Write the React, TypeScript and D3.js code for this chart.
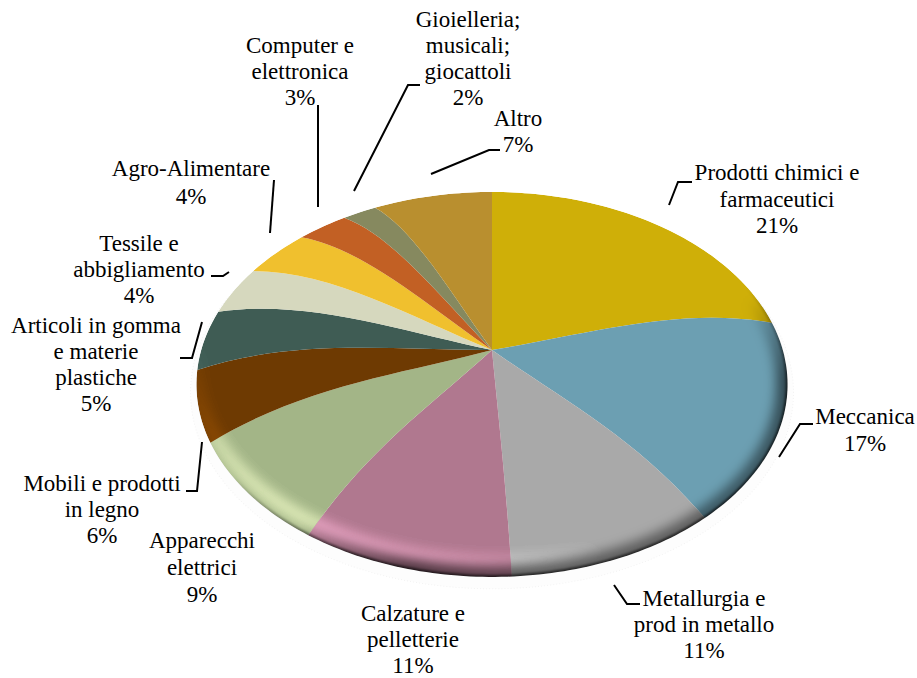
import React from "react";
import * as d3 from "d3";

const WIDTH = 917;
const HEIGHT = 678;

const sectors = [
  "Prodotti chimici e farmaceutici", "Meccanica", "Metallurgia e prod in metallo",
  "Calzature e pelletterie", "Apparecchi elettrici", "Mobili e prodotti in legno",
  "Articoli in gomma e materie plastiche", "Tessile e abbigliamento", "Agro-Alimentare",
  "Computer e elettronica", "Gioielleria; musicali; giocattoli", "Altro",
];
const shares = [21, 17, 11, 11, 9, 6, 5, 4, 4, 3, 2, 7];
const sliceColors = [
  "#CFAF08", "#6C9FB2", "#A9A9A9", "#B0788F", "#A3B587", "#6E3A02",
  "#3F5C54", "#D6D8BE", "#F0C02E", "#C26024", "#86895F", "#B98F2F",
];

const labelLines = [
  ["Prodotti chimici e", "farmaceutici"],
  ["Meccanica"],
  ["Metallurgia e", "prod in metallo"],
  ["Calzature e", "pelletterie"],
  ["Apparecchi", "elettrici"],
  ["Mobili e prodotti", "in legno"],
  ["Articoli in gomma", "e materie", "plastiche"],
  ["Tessile e", "abbigliamento"],
  ["Agro-Alimentare"],
  ["Computer e", "elettronica"],
  ["Gioielleria;", "musicali;", "giocattoli"],
  ["Altro"],
];
const labelX = [777, 865, 704, 413, 202, 102, 96, 139, 191, 300, 468, 518];
const labelY = [180, 424, 606, 621, 548, 491, 333, 251, 176, 53, 27, 126];
const labelStep = [26.5, 27, 26, 26, 27, 26, 26, 26, 28, 26, 26, 26];
const percentY = [233, 451, 658, 673, 602, 543, 411, 303, 204, 105, 105, 152];

const leaders: [number, number][][] = [
  [[669, 205], [678, 182], [692, 182]],
  [[779, 457], [800, 424], [813, 424]],
  [[614, 585], [627, 604], [640, 604]],
  [],
  [],
  [[202, 442], [197, 491], [186, 491]],
  [[202, 322], [192, 358], [180, 358]],
  [[229, 272], [223, 276], [211, 276]],
  [[270, 233], [274, 180]],
  [[318, 207], [318, 105]],
  [[354, 191], [408, 85], [420, 85]],
  [[431, 174], [489, 150], [500, 150]],
];

// Perspective view of the disk
const APEX: [number, number] = [492, 350];
const RX = 290.8, RY = 186.3, TILT = 0.179, SKEW = 0.105;
const BULGE_NEAR = 6, BULGE_FAR = 26;

function rim(a: number): [number, number] {
  const t = a + SKEW * Math.sin(a);
  const x = Math.sin(t), y = -Math.cos(t);
  const w = 1 - TILT * y;
  return [APEX[0] + (RX * x) / w, APEX[1] + (RY * y) / w];
}

function rimPoints(a0: number, a1: number) {
  const n = Math.max(2, Math.ceil((a1 - a0) / 0.02));
  return d3.range(n + 1).map((i) => rim(a0 + ((a1 - a0) * i) / n));
}

const chord = (q: [number, number], t: number, lift: number): [number, number] => [
  APEX[0] + (q[0] - APEX[0]) * t,
  APEX[1] + (q[1] - APEX[1]) * t - lift,
];

function slicePath(a0: number, a1: number) {
  const p = d3.path();
  const pts = rimPoints(a0, a1) as [number, number][];
  const s = pts[0], e = pts[pts.length - 1];
  const s1 = chord(s, 1 / 3, BULGE_NEAR), s2 = chord(s, 2 / 3, BULGE_FAR);
  const e1 = chord(e, 1 / 3, BULGE_NEAR), e2 = chord(e, 2 / 3, BULGE_FAR);
  p.moveTo(APEX[0], APEX[1]);
  p.bezierCurveTo(s1[0], s1[1], s2[0], s2[1], s[0], s[1]);
  pts.slice(1).forEach((q) => p.lineTo(q[0], q[1]));
  p.bezierCurveTo(e2[0], e2[1], e1[0], e1[1], APEX[0], APEX[1]);
  p.closePath();
  return p.toString();
}

const arcs = d3.pie<number>().sort(null)(shares);
const fullRim = d3.line()(rimPoints(0, Math.PI * 2)) + "Z";
const leaderLine = d3.line();
const FONT = "'Liberation Serif', serif";

export default function App() {
  return (
    <svg width={WIDTH} height={HEIGHT} viewBox={`0 0 ${WIDTH} ${HEIGHT}`}
      style={{ position: "absolute", left: 0, top: 0, background: "#fff" }}>
      <defs>
        <clipPath id="disk"><path d={fullRim} /></clipPath>
        <filter id="b6" x="-10%" y="-10%" width="120%" height="120%"><feGaussianBlur stdDeviation="6" /></filter>
        <filter id="b2" x="-10%" y="-10%" width="120%" height="120%"><feGaussianBlur stdDeviation="1" /></filter>
        <linearGradient id="dark" gradientUnits="userSpaceOnUse" x1="490" y1="430" x2="560" y2="570">
          <stop offset="0" stopColor="#000" stopOpacity="0" />
          <stop offset="0.55" stopColor="#000" stopOpacity="0.55" />
          <stop offset="1" stopColor="#000" stopOpacity="0.45" />
        </linearGradient>
        <linearGradient id="light" gradientUnits="userSpaceOnUse" x1="400" y1="460" x2="350" y2="560">
          <stop offset="0" stopColor="#555" stopOpacity="0" />
          <stop offset="1" stopColor="#555" stopOpacity="0.75" />
        </linearGradient>
        <linearGradient id="edge" gradientUnits="userSpaceOnUse" x1="300" y1="450" x2="340" y2="560">
          <stop offset="0" stopColor="#000" stopOpacity="0" />
          <stop offset="1" stopColor="#000" stopOpacity="0.6" />
        </linearGradient>
      </defs>

      <path d={fullRim} transform="translate(0,8) translate(491 384) scale(1.02) translate(-491 -384)"
        fill="#fdfdfd" stroke="#f3f3f3" strokeWidth={1} strokeDasharray="1 2" />

      <g clipPath="url(#disk)" style={{ isolation: "isolate" }}>
        {arcs.map((a, i) => (
          <path key={sectors[i]} d={slicePath(a.startAngle, a.endAngle)} fill={sliceColors[i]} />
        ))}
        <path d={fullRim} transform="translate(0,-15)" fill="none" stroke="url(#light)" strokeWidth={14} filter="url(#b6)"
          style={{ mixBlendMode: "color-dodge" }} />
        <path d={fullRim} fill="none" stroke="url(#dark)" strokeWidth={22} filter="url(#b6)" />
        <path d={fullRim} fill="none" stroke="url(#edge)" strokeWidth={4} filter="url(#b2)" />
      </g>

      {leaders.map((pts, i) =>
        pts.length ? (
          <path key={i} d={leaderLine(pts) ?? ""} fill="none" stroke="#000" strokeWidth={2} />
        ) : null
      )}

      <g fontFamily={FONT} fontSize={23} fill="#000" textAnchor="middle">
        {labelLines.map((lines, i) => (
          <text key={sectors[i]} x={labelX[i]} y={labelY[i]}>
            {lines.map((t, j) => (
              <tspan key={j} x={labelX[i]} y={labelY[i] + j * labelStep[i]}>{t}</tspan>
            ))}
            <tspan x={labelX[i]} y={percentY[i]}>{`${shares[i]}%`}</tspan>
          </text>
        ))}
      </g>
    </svg>
  );
}
